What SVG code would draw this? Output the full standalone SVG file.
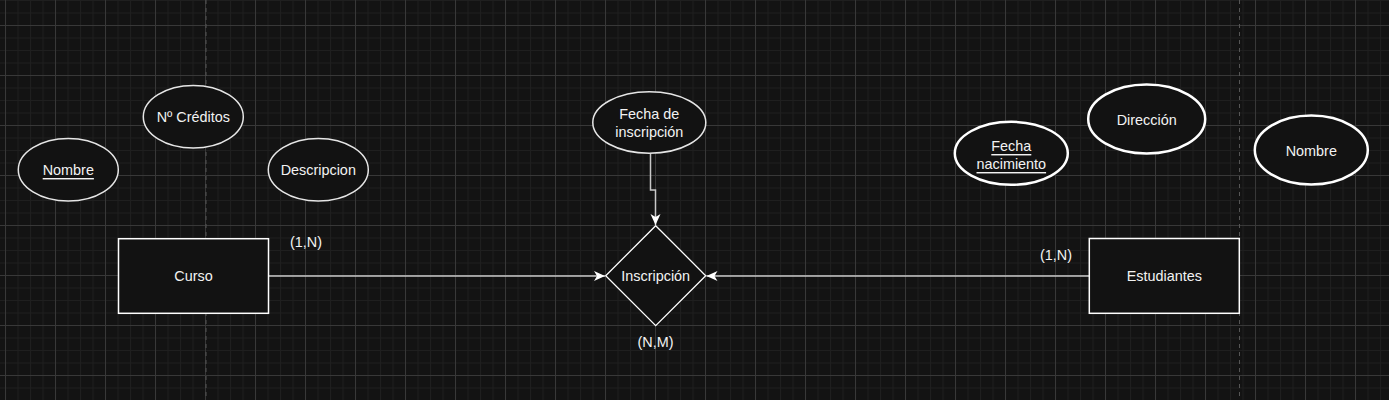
<svg xmlns="http://www.w3.org/2000/svg" width="1389" height="400" viewBox="0 0 1389 400">
<defs>
<pattern id="minor" patternUnits="userSpaceOnUse" x="5" y="0" width="12.5" height="12.5">
<path d="M0 0.5H12.5M0.5 0V12.5" stroke="#1f1f1f" stroke-width="1" fill="none"/>
</pattern>
<pattern id="major" patternUnits="userSpaceOnUse" x="5" y="25" width="50" height="50">
<path d="M0 0.5H50M0.5 0V50" stroke="#383838" stroke-width="1" fill="none"/>
</pattern>
<marker id="arrow" markerUnits="userSpaceOnUse" markerWidth="12" markerHeight="12" viewBox="0 0 12 12" refX="11" refY="6" orient="auto">
<path d="M0,1 L11,6 L0,11 L3,6 Z" fill="#ffffff"/>
</marker>
<style>
.attr{fill:#121212;stroke:#e6e6e6;stroke-width:1.5}
.attrb{fill:#121212;stroke:#ffffff;stroke-width:2.5}
.ent{fill:#121212;stroke:#ffffff;stroke-width:1.5}
.rel{fill:#121212;stroke:#ffffff;stroke-width:1.3}
.t{font-family:"Liberation Sans",Arial,sans-serif;font-size:14.4px;fill:#f2f2f2;text-anchor:middle;dominant-baseline:central}
.u{text-decoration:underline}
.edge{fill:none;stroke:#c8c8c8;stroke-width:1.5}
.pb{stroke:#555555;stroke-width:1;stroke-dasharray:4 4}
</style>
</defs>
<rect width="1389" height="400" fill="#131313"/>
<rect width="1389" height="400" fill="url(#minor)"/>
<rect width="1389" height="400" fill="url(#major)"/>
<line class="pb" x1="206" y1="0" x2="206" y2="400"/>
<line class="pb" x1="1239.5" y1="0" x2="1239.5" y2="400"/>

<g id="connectors">
<path class="edge" d="M268.5 276H605" marker-end="url(#arrow)"/>
<path class="edge" d="M1089 276H706.5" marker-end="url(#arrow)"/>
<path class="edge" d="M650.5 153.5V190H655.5V225" marker-end="url(#arrow)"/>
</g>

<g id="nombre-curso">
<ellipse class="attr" cx="68.3" cy="169.7" rx="50" ry="31.3"/>
<text class="t u" x="68.3" y="170">Nombre</text>
</g>
<g id="creditos">
<ellipse class="attr" cx="193.3" cy="116.7" rx="50" ry="31.3"/>
<text class="t" x="193.3" y="117">Nº Créditos</text>
</g>
<g id="descripcion">
<ellipse class="attr" cx="318.3" cy="169.7" rx="50" ry="31.3"/>
<text class="t" x="318.3" y="170">Descripcion</text>
</g>
<g id="curso">
<rect class="ent" x="118.5" y="238.7" width="150" height="74.6"/>
<text class="t" x="193.5" y="276">Curso</text>
</g>
<g id="card-curso">
<text class="t" x="306" y="242">(1,N)</text>
</g>

<g id="fecha-inscripcion">
<ellipse class="attr" cx="649.3" cy="122.5" rx="56.5" ry="30.8"/>
<text class="t" x="649.3" y="114">Fecha de</text>
<text class="t" x="649.3" y="132">inscripción</text>
</g>
<g id="inscripcion">
<polygon class="rel" points="655.7,225.7 705.7,275.7 655.7,325.7 605.7,275.7"/>
<text class="t" x="655.7" y="276">Inscripción</text>
</g>
<g id="card-inscripcion">
<text class="t" x="655.5" y="342">(N,M)</text>
</g>

<g id="fecha-nacimiento">
<ellipse class="attrb" cx="1011.3" cy="153.3" rx="56.5" ry="31.5"/>
<text class="t u" x="1011.3" y="146">Fecha</text>
<text class="t u" x="1011.3" y="164">nacimiento</text>
</g>
<g id="direccion">
<ellipse class="attrb" cx="1146.7" cy="119" rx="58.5" ry="34.5"/>
<text class="t" x="1146.7" y="120">Dirección</text>
</g>
<g id="nombre-estudiante">
<ellipse class="attrb" cx="1311.3" cy="150" rx="56.5" ry="34.5"/>
<text class="t" x="1311.3" y="151">Nombre</text>
</g>
<g id="estudiantes">
<rect class="ent" x="1089.3" y="238.5" width="150" height="74.8"/>
<text class="t" x="1164.3" y="276">Estudiantes</text>
</g>
<g id="card-estudiantes">
<text class="t" x="1056" y="255">(1,N)</text>
</g>
</svg>
